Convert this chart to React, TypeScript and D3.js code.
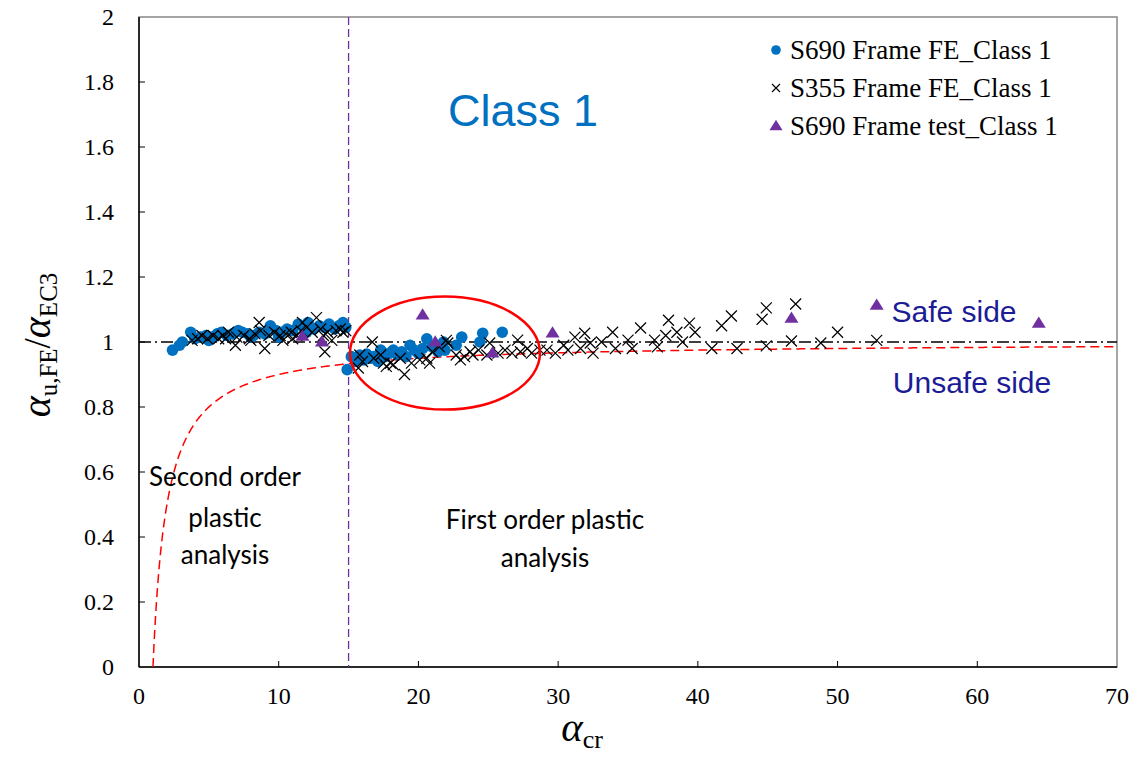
import React from "react";
import * as d3 from "d3";

// S690 frames, finite-element results, cross-section class 1: [alpha_cr, alpha_u,FE / alpha_EC3]
const s690FE: [number, number][] = [
  [2.4, 0.975], [2.9, 0.99], [3.1, 1.0], [3.7, 1.03], [4.0, 1.01], [4.4, 1.015], [4.8, 1.02],
  [5.2, 1.015], [5.6, 1.025], [5.9, 1.03], [6.3, 1.02], [6.7, 1.025], [7.1, 1.035], [7.4, 1.03],
  [7.8, 1.025], [8.2, 1.02], [8.6, 1.03], [9.0, 1.025], [9.4, 1.05], [9.8, 1.035], [10.2, 1.03],
  [10.6, 1.04], [11.0, 1.035], [11.4, 1.055], [11.8, 1.045], [12.1, 1.06], [12.5, 1.04],
  [12.9, 1.05], [13.3, 1.045], [13.6, 1.055], [14.0, 1.04], [14.3, 1.05], [14.6, 1.06],
  [14.8, 1.045], [5.0, 1.005], [8.0, 1.015], [10.0, 1.015], [12.0, 1.03],
  [14.9, 0.915], [15.2, 0.955], [15.5, 0.94], [15.8, 0.96], [16.1, 0.945], [16.3, 0.963],
  [16.6, 0.95], [16.8, 0.955], [17.1, 0.94], [17.3, 0.975], [17.6, 0.955], [17.9, 0.965],
  [18.2, 0.975], [18.5, 0.96], [18.8, 0.97], [19.1, 0.955], [19.4, 0.99], [19.7, 0.975],
  [20.0, 0.965], [20.3, 0.98], [20.6, 1.01], [21.0, 0.985], [21.4, 0.97], [21.8, 1.0],
  [21.9, 0.975], [22.7, 0.99], [23.1, 1.015], [24.4, 1.0], [24.6, 1.027], [26.0, 1.03],
];

// S355 frames, finite-element results, class 1
const s355FE: [number, number][] = [
  [3.8, 1.005], [4.2, 1.01], [4.5, 1.02], [4.9, 1.01], [5.3, 1.02], [5.7, 1.01], [6.0, 1.02],
  [6.2, 1.01], [6.4, 1.03], [6.9, 0.99], [7.0, 1.015], [7.5, 1.02], [7.9, 1.01], [8.0, 1.005],
  [8.3, 1.025], [8.6, 1.06], [8.7, 1.035], [9.0, 0.98], [9.3, 1.02], [9.7, 1.03], [10.1, 1.02],
  [10.3, 1.005], [10.5, 1.025], [10.9, 1.03], [11.0, 1.01], [11.3, 1.02], [11.6, 1.035],
  [11.7, 1.06], [12.0, 1.045], [12.4, 1.03], [12.7, 1.075], [13.0, 1.04], [13.2, 1.02],
  [13.3, 0.97], [13.5, 1.03], [13.8, 1.005], [14.1, 1.035], [14.4, 1.04], [14.6, 1.03],
  [14.8, 1.035],
  [15.7, 0.92], [15.8, 0.96], [16.0, 0.94], [16.7, 1.0], [16.8, 0.95], [17.3, 0.96],
  [17.5, 0.935], [17.7, 0.925], [18.0, 0.935], [18.2, 0.93], [18.7, 0.95], [19.0, 0.9],
  [19.5, 0.935], [20.1, 0.945], [20.6, 0.95], [20.8, 0.935], [21.0, 0.97], [21.5, 0.985],
  [22.0, 1.005], [22.1, 0.997], [22.7, 0.96], [23.0, 0.945], [23.3, 0.955], [23.7, 0.97],
  [23.9, 0.96], [24.3, 0.975], [24.9, 0.96], [25.1, 0.997], [25.7, 0.966], [26.2, 0.975],
  [26.7, 0.966], [27.1, 1.006], [27.3, 0.97], [27.8, 0.98], [28.1, 0.966], [28.7, 0.975],
  [29.2, 0.975], [29.8, 0.966], [30.4, 0.99], [30.7, 0.975], [31.2, 1.015], [31.6, 0.98],
  [31.9, 1.027], [32.3, 0.997], [32.5, 0.966], [33.1, 1.0], [33.9, 1.03], [34.1, 0.98],
  [35.0, 1.006], [35.3, 0.98], [35.9, 1.043], [36.9, 1.006], [37.1, 0.985], [37.7, 1.02],
  [37.9, 1.067], [38.5, 1.03], [38.9, 1.0], [39.4, 1.058], [39.8, 1.03], [41.0, 0.98],
  [41.7, 1.05], [42.4, 1.08], [42.8, 0.98], [44.6, 1.07], [44.9, 1.105], [44.9, 0.988],
  [46.7, 1.003], [47.0, 1.117], [48.8, 0.997], [50.0, 1.03], [52.8, 1.005],
];

// S690 frames, test results, class 1
const s690Test: [number, number][] = [
  [11.7, 1.018], [13.1, 1.0], [20.3, 1.083], [21.2, 1.0], [25.3, 0.966], [29.6, 1.028],
  [46.7, 1.073], [52.8, 1.113], [64.4, 1.058],
];

const xTicks = [0, 10, 20, 30, 40, 50, 60, 70];
const yTicks = [0, 0.2, 0.4, 0.6, 0.8, 1, 1.2, 1.4, 1.6, 1.8, 2];

const legendLabels = ["S690 Frame FE_Class 1", "S355 Frame FE_Class 1", "S690 Frame test_Class 1"];

// Boundary between second-order and first-order plastic analysis
const alphaLimit = 15;

// Highlighted region around the transition zone: centre and half-axes in data units
const highlight = { cx: 21.9, cy: 0.966, rx: 6.8, ry: 0.174 };

const W = 1140;
const H = 757;
const x = d3.scaleLinear().domain([0, 70]).range([139, 1117]);
const y = d3.scaleLinear().domain([0, 2]).range([667, 17]);

const BLUE = "#0070C0";
const PURPLE = "#7030A0";
const NAVY = "#1C1C96";
const SERIF = "'Liberation Serif', 'Times New Roman', serif";
const SANS = "'Liberation Sans', Arial, sans-serif";
const LABEL = "Lato, 'Open Sans', sans-serif";

function Cross({ cx, cy, s = 5.5 }: { cx: number; cy: number; s?: number }) {
  return (
    <path
      d={`M${cx - s},${cy - s}L${cx + s},${cy + s}M${cx - s},${cy + s}L${cx + s},${cy - s}`}
      stroke="#000"
      strokeWidth={1.2}
      fill="none"
    />
  );
}

function Tri({ cx, cy, s = 7 }: { cx: number; cy: number; s?: number }) {
  const h = s * 1.6;
  return (
    <path
      d={`M${cx},${cy - h * 0.6}L${cx + s},${cy + h * 0.4}L${cx - s},${cy + h * 0.4}Z`}
      fill={PURPLE}
    />
  );
}

export default function App() {
  // Amplification curve 1 - 1/alpha_cr
  const curveXs = d3.range(1, 70.001, 0.05);
  const curve = d3
    .line<number>()
    .x((d) => x(d))
    .y((d) => y(1 - 1 / d))(curveXs);

  return (
    <svg width={W} height={H} style={{ display: "block", position: "absolute", left: 0, top: 0 }}>
      <rect x={0} y={0} width={W} height={H} fill="#fff" />

      {/* plot frame */}
      <rect x={x(0)} y={y(2)} width={x(70) - x(0)} height={y(0) - y(2)} fill="none" stroke="#888" strokeWidth={1.5} />
      <line x1={x(0)} x2={x(0)} y1={y(2)} y2={y(0)} stroke="#000" strokeWidth={1.5} />
      <line x1={x(0)} x2={x(70)} y1={y(0)} y2={y(0)} stroke="#000" strokeWidth={1.5} />

      {/* ticks */}
      {xTicks.map((t) => (
        <g key={"xt" + t}>
          {t > 0 && t < 70 && <line x1={x(t)} x2={x(t)} y1={y(0)} y2={y(0) - 6} stroke="#000" strokeWidth={1} />}
          <text x={x(t)} y={y(0) + 37} textAnchor="middle" style={{ fontFamily: SERIF, fontSize: 24 }}>
            {t}
          </text>
        </g>
      ))}
      {yTicks.map((t) => (
        <g key={"yt" + t}>
          {t > 0 && t < 2 && <line x1={x(0)} x2={x(0) + 6} y1={y(t)} y2={y(t)} stroke="#000" strokeWidth={1} />}
          <text x={x(0) - 25} y={y(t) + 8} textAnchor="end" style={{ fontFamily: SERIF, fontSize: 24 }}>
            {d3.format("~g")(t)}
          </text>
        </g>
      ))}

      {/* reference lines */}
      <line x1={x(0)} x2={x(70)} y1={y(1)} y2={y(1)} stroke="#000" strokeWidth={1.3} strokeDasharray="12,4,2,4" />
      <line x1={x(alphaLimit)} x2={x(alphaLimit)} y1={y(2)} y2={y(0)} stroke={PURPLE} strokeWidth={1.3} strokeDasharray="8,4" />

      <defs>
        <clipPath id="plotClip">
          <rect x={x(0)} y={y(2)} width={x(70) - x(0)} height={y(0) - y(2)} />
        </clipPath>
      </defs>
      <path d={curve ?? ""} fill="none" stroke="#FF0000" strokeWidth={1.5} strokeDasharray="9,5" clipPath="url(#plotClip)" />

      {/* data */}
      {s690FE.map(([a, b], i) => (
        <circle key={"c" + i} cx={x(a)} cy={y(b)} r={5.8} fill={BLUE} />
      ))}
      {s355FE.map(([a, b], i) => (
        <Cross key={"x" + i} cx={x(a)} cy={y(b)} />
      ))}
      {s690Test.map(([a, b], i) => (
        <Tri key={"t" + i} cx={x(a)} cy={y(b)} />
      ))}

      {/* highlighted zone */}
      <ellipse
        cx={x(highlight.cx)}
        cy={y(highlight.cy)}
        rx={x(highlight.rx) - x(0)}
        ry={y(0) - y(highlight.ry)}
        fill="none"
        stroke="#FF0000"
        strokeWidth={2.5}
      />

      {/* annotations */}
      <text x={523} y={126} textAnchor="middle" fontFamily={SANS} fontSize={45} fill={BLUE}>
        Class 1
      </text>
      <text x={954} y={322} textAnchor="middle" fontFamily={SANS} fontSize={30} fill={NAVY}>
        Safe side
      </text>
      <text x={972} y={393} textAnchor="middle" fontFamily={SANS} fontSize={30} fill={NAVY}>
        Unsafe side
      </text>
      <g fontFamily={LABEL} fontSize={26} textAnchor="middle" fill="#000">
        <text x={225} y={486}>Second order</text>
        <text x={225} y={527}>plastic</text>
        <text x={225} y={564}>analysis</text>
        <text x={545} y={529}>First order plastic</text>
        <text x={545} y={567}>analysis</text>
      </g>

      {/* legend */}
      {legendLabels.map((lab, i) => {
        const ly = 50 + i * 38;
        return (
          <g key={lab}>
            {i === 0 && <circle cx={776} cy={ly} r={4.8} fill={BLUE} />}
            {i === 1 && <Cross cx={776} cy={ly} s={4} />}
            {i === 2 && <Tri cx={776} cy={ly} s={6.5} />}
            <text x={790} y={ly + 9} style={{ fontFamily: SERIF, fontSize: 27 }}>
              {lab}
            </text>
          </g>
        );
      })}

      {/* axis titles */}
      <text x={582} y={741} textAnchor="middle" style={{ fontFamily: SERIF }}>
        <tspan fontSize={41} fontStyle="italic">α</tspan>
        <tspan fontSize={26} dy={7}>cr</tspan>
      </text>
      <text transform="translate(50,345) rotate(-90)" textAnchor="middle" style={{ fontFamily: SERIF }}>
        <tspan fontSize={40} fontStyle="italic">α</tspan>
        <tspan fontSize={25} dy={7}>u,FE</tspan>
        <tspan fontSize={37} dy={-7}>/</tspan>
        <tspan fontSize={40} fontStyle="italic">α</tspan>
        <tspan fontSize={25} dy={7}>EC3</tspan>
      </text>
    </svg>
  );
}
